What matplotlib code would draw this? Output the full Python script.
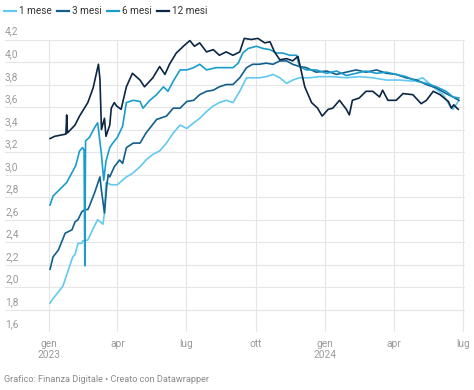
import matplotlib
matplotlib.use("Agg")
import matplotlib.pyplot as plt
import pandas as pd
from matplotlib.lines import Line2D

plt.rcParams['font.family'] = ['Roboto', 'DejaVu Sans']

# --- dati (rendimenti BOT, %) ---
series_names = ["1 mese", "3 mesi", "6 mesi", "12 mesi"]
series_colors = ["#62c9ef", "#125f8e", "#1b9dcb", "#0c2644"]

dates_1m = ["2023-01-02", "2023-01-06", "2023-01-12", "2023-01-19", "2023-01-25", "2023-02-01",
            "2023-02-04", "2023-02-08", "2023-02-13", "2023-02-14", "2023-02-21", "2023-02-28",
            "2023-03-06", "2023-03-13", "2023-03-15", "2023-03-17", "2023-03-24", "2023-04-01",
            "2023-04-06", "2023-04-13", "2023-04-21", "2023-05-01", "2023-05-09", "2023-05-18",
            "2023-05-27", "2023-06-05", "2023-06-14", "2023-06-23", "2023-07-02", "2023-07-11",
            "2023-07-19", "2023-07-28", "2023-08-06", "2023-08-14", "2023-08-23", "2023-09-01",
            "2023-09-10", "2023-09-19", "2023-09-27", "2023-10-06", "2023-10-15", "2023-10-24",
            "2023-11-02", "2023-11-11", "2023-11-19", "2023-11-28", "2023-12-11", "2023-12-25",
            "2024-01-11", "2024-01-29", "2024-02-15", "2024-03-04", "2024-03-22", "2024-04-09",
            "2024-04-26", "2024-05-09", "2024-05-23", "2024-06-05", "2024-06-14", "2024-06-18",
            "2024-06-25"]
values_1m = [1.86, 1.90, 1.95, 2.01, 2.13, 2.27,
             2.29, 2.39, 2.39, 2.41, 2.42, 2.52,
             2.60, 2.56, 2.66, 2.93, 2.91, 2.91,
             2.94, 2.98, 3.01, 3.07, 3.13, 3.18,
             3.21, 3.28, 3.37, 3.44, 3.41, 3.46,
             3.50, 3.56, 3.61, 3.64, 3.66, 3.64,
             3.74, 3.86, 3.86, 3.86, 3.87, 3.89,
             3.86, 3.81, 3.84, 3.86, 3.86, 3.87,
             3.87, 3.86, 3.87, 3.86, 3.84, 3.84,
             3.83, 3.86, 3.78, 3.71, 3.61, 3.58,
             3.65]

dates_3m = ["2023-01-02", "2023-01-06", "2023-01-13", "2023-01-22", "2023-01-31", "2023-02-04",
            "2023-02-08", "2023-02-13", "2023-02-17", "2023-02-21", "2023-02-23", "2023-03-02",
            "2023-03-09", "2023-03-11", "2023-03-15", "2023-03-18", "2023-03-20", "2023-03-22",
            "2023-03-26", "2023-03-28", "2023-04-04", "2023-04-08", "2023-04-13", "2023-04-22",
            "2023-05-01", "2023-05-09", "2023-05-23", "2023-06-05", "2023-06-14", "2023-06-23",
            "2023-07-02", "2023-07-11", "2023-07-19", "2023-07-28", "2023-08-06", "2023-08-14",
            "2023-08-23", "2023-09-01", "2023-09-10", "2023-09-19", "2023-09-27", "2023-10-06",
            "2023-10-15", "2023-10-24", "2023-11-02", "2023-11-11", "2023-11-19", "2023-11-28",
            "2023-12-07", "2023-12-20", "2024-01-03", "2024-01-16", "2024-01-29", "2024-02-11",
            "2024-02-24", "2024-03-09", "2024-03-22", "2024-04-04", "2024-04-17", "2024-05-01",
            "2024-05-14", "2024-05-27", "2024-06-09", "2024-06-18", "2024-06-26"]
values_3m = [2.16, 2.27, 2.33, 2.48, 2.51, 2.58,
             2.60, 2.67, 2.69, 2.69, 2.72, 2.84,
             2.98, 2.86, 2.66, 2.90, 3.00, 2.98,
             3.04, 3.07, 3.13, 3.10, 3.24, 3.28,
             3.28, 3.37, 3.49, 3.52, 3.59, 3.59,
             3.65, 3.66, 3.71, 3.74, 3.75, 3.78,
             3.80, 3.80, 3.86, 3.95, 3.98, 3.98,
             3.99, 3.98, 4.01, 4.01, 3.98, 3.96,
             3.95, 3.91, 3.92, 3.89, 3.91, 3.93,
             3.91, 3.93, 3.90, 3.89, 3.86, 3.84,
             3.80, 3.77, 3.72, 3.69, 3.66]

dates_6m = ["2023-01-02", "2023-01-06", "2023-01-24", "2023-02-05", "2023-02-10", "2023-02-14",
            "2023-02-16", "2023-02-17", "2023-02-18", "2023-02-23", "2023-02-27", "2023-03-03",
            "2023-03-06", "2023-03-11", "2023-03-14", "2023-03-17", "2023-03-22", "2023-03-26",
            "2023-04-01", "2023-04-08", "2023-04-13", "2023-04-22", "2023-05-01", "2023-05-05",
            "2023-05-14", "2023-05-23", "2023-06-01", "2023-06-07", "2023-06-14", "2023-06-23",
            "2023-07-02", "2023-07-11", "2023-07-19", "2023-07-28", "2023-08-10", "2023-08-23",
            "2023-09-01", "2023-09-08", "2023-09-14", "2023-09-21", "2023-10-02", "2023-10-11",
            "2023-10-20", "2023-10-28", "2023-11-06", "2023-11-15", "2023-11-24", "2023-11-28",
            "2023-12-07", "2023-12-20", "2024-01-03", "2024-01-16", "2024-01-29", "2024-02-11",
            "2024-02-24", "2024-03-09", "2024-03-22", "2024-04-04", "2024-04-17", "2024-05-01",
            "2024-05-14", "2024-05-27", "2024-06-09", "2024-06-18", "2024-06-26"]
values_6m = [2.73, 2.81, 2.93, 3.08, 3.21, 3.24,
             3.22, 2.19, 3.30, 3.33, 3.38, 3.43,
             3.46, 3.18, 2.95, 3.12, 3.24, 3.28,
             3.33, 3.43, 3.64, 3.66, 3.65, 3.59,
             3.66, 3.71, 3.78, 3.74, 3.83, 3.93,
             3.93, 3.95, 3.98, 3.93, 3.95, 3.95,
             3.95, 3.99, 4.08, 4.12, 4.14, 4.12,
             4.11, 4.08, 4.08, 4.06, 4.06, 3.96,
             3.93, 3.93, 3.90, 3.92, 3.88, 3.90,
             3.92, 3.90, 3.91, 3.89, 3.87, 3.83,
             3.81, 3.78, 3.74, 3.69, 3.68]

dates_12m = ["2023-01-02", "2023-01-08", "2023-01-23", "2023-01-24", "2023-01-25", "2023-02-04",
             "2023-02-10", "2023-02-21", "2023-02-28", "2023-03-04", "2023-03-07", "2023-03-09",
             "2023-03-11", "2023-03-15", "2023-03-17", "2023-03-20", "2023-03-22", "2023-03-24",
             "2023-03-28", "2023-03-31", "2023-04-06", "2023-04-13", "2023-04-21", "2023-05-01",
             "2023-05-07", "2023-05-18", "2023-05-27", "2023-06-03", "2023-06-09", "2023-06-18",
             "2023-06-29", "2023-07-06", "2023-07-12", "2023-07-19", "2023-07-28", "2023-08-06",
             "2023-08-14", "2023-08-23", "2023-09-01", "2023-09-10", "2023-09-16", "2023-09-25",
             "2023-10-04", "2023-10-13", "2023-10-20", "2023-10-26", "2023-11-02", "2023-11-11",
             "2023-11-19", "2023-11-26", "2023-11-30", "2023-12-05", "2023-12-14", "2023-12-22",
             "2023-12-28", "2024-01-05", "2024-01-11", "2024-01-20", "2024-01-29", "2024-02-02",
             "2024-02-06", "2024-02-15", "2024-02-24", "2024-03-04", "2024-03-13", "2024-03-17",
             "2024-03-24", "2024-04-04", "2024-04-13", "2024-04-26", "2024-05-07", "2024-05-14",
             "2024-05-23", "2024-06-01", "2024-06-12", "2024-06-16", "2024-06-19", "2024-06-25"]
values_12m = [3.32, 3.34, 3.36, 3.53, 3.37, 3.44,
              3.52, 3.64, 3.77, 3.89, 3.98, 3.85,
              3.40, 3.50, 3.34, 3.40, 3.44, 3.59,
              3.64, 3.61, 3.58, 3.78, 3.90, 3.84,
              3.78, 3.86, 3.96, 3.89, 3.98, 4.08,
              4.15, 4.19, 4.14, 4.17, 4.09, 4.11,
              4.06, 4.09, 4.06, 4.09, 4.21, 4.20,
              4.21, 4.17, 4.18, 4.09, 4.02, 4.03,
              4.01, 4.05, 3.93, 3.78, 3.64, 3.59,
              3.52, 3.58, 3.59, 3.66, 3.58, 3.53,
              3.66, 3.68, 3.74, 3.74, 3.69, 3.75,
              3.66, 3.66, 3.72, 3.71, 3.63, 3.66,
              3.74, 3.71, 3.65, 3.59, 3.62, 3.58]

all_dates = [dates_1m, dates_3m, dates_6m, dates_12m]
all_values = [values_1m, values_3m, values_6m, values_12m]

y_ticks = [1.6, 1.8, 2.0, 2.2, 2.4, 2.6, 2.8, 3.0, 3.2, 3.4, 3.6, 3.8, 4.0, 4.2]
x_tick_dates = ["2023-01-01", "2023-04-01", "2023-07-01", "2023-10-01",
                "2024-01-01", "2024-04-01", "2024-07-01"]
x_tick_labels = ["gen\n2023", "apr", "lug", "ott", "gen\n2024", "apr", "lug"]
source_text = "Grafico: Finanza Digitale • Creato con Datawrapper"

# --- figura ---
W, H = 474, 390
fig = plt.figure(figsize=(W / 100, H / 100), dpi=100)
ax = fig.add_axes([5 / W, 1 - 332.3 / H, 460 / W, (332.3 - 39.5) / H])

grid_col = "#e6e6e6"
label_col = "#9a9a9a"

start = pd.Timestamp("2023-01-01")
ax.set_xlim(start - pd.Timedelta(days=58.6), start + pd.Timedelta(days=550))
ax.set_ylim(y_ticks[0], y_ticks[-1])

for yv in y_ticks:
    ax.axhline(yv, color=grid_col, lw=0.8, zorder=0)
    ax.text(0, yv + 0.025, f"{yv:.1f}".replace(".", ","), transform=ax.get_yaxis_transform(),
            fontsize=7.3, color=label_col, ha="left", va="bottom", clip_on=False)

xt = pd.to_datetime(x_tick_dates)
for d in xt:
    ax.axvline(d, color=grid_col, lw=0.8, zorder=0)

for name, col, ds, vs in zip(series_names, series_colors, all_dates, all_values):
    ax.plot(pd.to_datetime(ds), vs, color=col, lw=1.2, label=name, zorder=2,
            solid_joinstyle="round", clip_on=False)

ax.set_xticks(xt)
ax.set_xticklabels(x_tick_labels, fontsize=7.3, color=label_col, linespacing=1.15)
ax.tick_params(axis="x", length=0, pad=5)
ax.set_yticks([])
for s in ax.spines.values():
    s.set_visible(False)

# legenda in alto
leg_x = [4, 57, 107, 157]
for name, col, lx in zip(series_names, series_colors, leg_x):
    fig.add_artist(Line2D([lx / W, (lx + 12) / W], [1 - 11 / H, 1 - 11 / H],
                          color=col, lw=1.6, transform=fig.transFigure))
    fig.text((lx + 15) / W, 1 - 11 / H, name, fontsize=7.2, color="#333333",
             ha="left", va="center")

fig.text(4 / W, 1 - 379 / H, source_text, fontsize=6.6, color="#8a8a8a",
         ha="left", va="center")

fig.savefig("out.png", dpi=100)
